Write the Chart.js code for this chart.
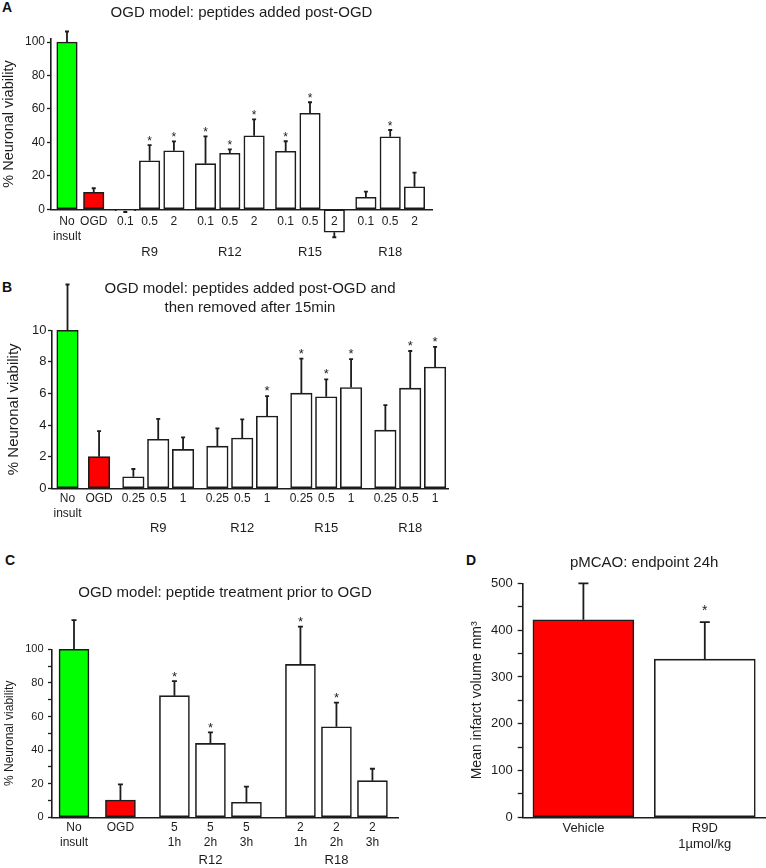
<!DOCTYPE html>
<html>
<head>
<meta charset="utf-8">
<script src="https://cdn.jsdelivr.net/npm/chart.js@4.4.1/dist/chart.umd.min.js"></script>
<style>
  body { margin: 0; background: #fff; width: 766px; height: 868px; position: relative; overflow: hidden; font-family: "Liberation Sans", Arial, sans-serif; }
  canvas { position: absolute; }
  .tag { position: absolute; font-weight: bold; font-size: 14px; line-height: 14px; color: #111; }
</style>
</head>
<body>
<div class="tag" style="left:2px;top:0px">A</div>
<div class="tag" style="left:2px;top:280px">B</div>
<div class="tag" style="left:5px;top:553px">C</div>
<div class="tag" style="left:466px;top:553px">D</div>
<canvas id="chartA" style="left:0;top:0" width="480" height="262"></canvas>
<canvas id="chartB" style="left:0;top:262px" width="480" height="275"></canvas>
<canvas id="chartC" style="left:0;top:532px" width="430" height="336"></canvas>
<canvas id="chartD" style="left:430px;top:532px" width="336" height="336"></canvas>
<script>
// Panel A: peptides added post-OGD
const aLabels = [["No", "insult"], "OGD", "0.1", "0.5", "2", "0.1", "0.5", "2", "0.1", "0.5", "2", "0.1", "0.5", "2"];
const aGroups = ["", "", "R9", "R9", "R9", "R12", "R12", "R12", "R15", "R15", "R15", "R18", "R18", "R18"];
const aValues = [100, 10.2, -0.8, 29, 35, 27.3, 33.5, 44, 34.7, 57.4, -13.7, 7.2, 43.4, 13.5];
const aErrors = [6.3, 2.4, 0.8, 9.4, 5.6, 16.3, 2.3, 9.8, 6, 6.6, 3, 3.4, 4, 8.4];
const aStars = [0, 0, 0, 1, 1, 1, 1, 1, 1, 1, 0, 0, 1, 0];
const aTicks = [0, 10, 20, 30, 40, 50, 60, 70, 80, 90, 100];

// Panel B: peptides added post-OGD, removed after 15 min
const bLabels = [["No", "insult"], "OGD", "0.25", "0.5", "1", "0.25", "0.5", "1", "0.25", "0.5", "1", "0.25", "0.5", "1"];
const bGroups = ["", "", "R9", "R9", "R9", "R12", "R12", "R12", "R15", "R15", "R15", "R18", "R18", "R18"];
const bValues = [100, 20, 7.3, 31, 24.6, 26.7, 31.8, 45.7, 60.2, 57.9, 63.8, 36.8, 63.4, 76.8];
const bErrors = [29, 16.2, 4.9, 13, 7.6, 11.2, 11.8, 12.6, 21.9, 11.1, 17.9, 15.8, 23.5, 12.7];
const bStars = [0, 0, 0, 0, 0, 0, 0, 1, 1, 1, 1, 0, 1, 1];
const bTicks = [0, 10, 20, 30, 40, 50, 60, 70, 80, 90, 100];
const bTickLabels = ["0", "0", "2", "0", "4", "0", "6", "0", "8", "0", "10"];

// Panel C: peptide treatment prior to OGD
const cLabels = [["No", "insult"], "OGD", ["5", "1h"], ["5", "2h"], ["5", "3h"], ["2", "1h"], ["2", "2h"], ["2", "3h"]];
const cGroups = ["", "", "R12", "R12", "R12", "R18", "R18", "R18"];
const cValues = [100, 10.3, 72.4, 44, 8.9, 91, 53.9, 21.8];
const cErrors = [17.4, 9.3, 8.7, 6.6, 9.3, 22.5, 14.3, 7.1];
const cStars = [0, 0, 1, 1, 0, 1, 1, 0];
const cTicks = [0, 10, 20, 30, 40, 50, 60, 70, 80, 90, 100];

// Panel D: pMCAO infarct volume
const dLabels = [["Vehicle"], ["R9D", "1µmol/kg"]];
const dValues = [422, 338];
const dErrors = [78, 79];
const dStars = [0, 1];
const dTicks = [0, 50, 100, 150, 200, 250, 300, 350, 400, 450, 500];

const FONT = "'Liberation Sans', Arial, sans-serif";
const INK = "#1c1c1c";
const GREEN = "#00ff00";
const RED = "#ff0000";

// one-sided error bars with a small cap, plus significance stars
const errorBars = {
  id: "errorBars",
  afterDatasetsDraw(chart) {
    const { ctx } = chart;
    const yScale = chart.scales.y;
    const ds = chart.data.datasets[0];
    const meta = chart.getDatasetMeta(0);
    const st = ds.errStyle;
    ctx.save();
    ctx.strokeStyle = INK;
    ctx.fillStyle = INK;
    ctx.lineWidth = st.width;
    ctx.font = st.starSize + "px " + FONT;
    ctx.textAlign = "center";
    ctx.textBaseline = "alphabetic";
    meta.data.forEach((bar, i) => {
      const d = ds.data[i];
      const v = typeof d === "object" ? d.y : d;
      const end = v < 0 ? v - ds.errors[i] : v + ds.errors[i];
      const y0 = yScale.getPixelForValue(v);
      const y1 = yScale.getPixelForValue(end);
      ctx.beginPath();
      ctx.moveTo(bar.x, y0);
      ctx.lineTo(bar.x, y1);
      ctx.moveTo(bar.x - st.cap / 2, y1);
      ctx.lineTo(bar.x + st.cap / 2, y1);
      ctx.stroke();
      if (ds.stars[i]) ctx.fillText("*", bar.x, y1 - st.starGap);
    });
    ctx.restore();
  },
};

// x position of each bar: 1 step inside a group, wider steps between groups
function slotPositions(groups, ctrlGap, groupGap) {
  const pos = [];
  let p = 0;
  groups.forEach((g, i) => {
    if (i > 0) {
      if (g !== "" && g === groups[i - 1]) p += 1;
      else if (g === "" && groups[i - 1] === "") p += ctrlGap;
      else p += groupGap;
    }
    pos.push(p);
  });
  return pos;
}

function groupCenters(groups, pos) {
  const names = [...new Set(groups.filter((g) => g !== ""))];
  const centers = names.map((n) => {
    const ps = pos.filter((p, i) => groups[i] === n);
    return (ps[0] + ps[ps.length - 1]) / 2;
  });
  return { names, centers };
}

function yAxis(o) {
  return {
    min: 0,
    max: o.max,
    afterBuildTicks: (s) => { s.ticks = o.ticks.map((v) => ({ value: v })); },
    afterFit: (s) => { s.width = o.width; },
    ticks: { color: INK, font: { family: FONT, size: o.fontSize }, padding: o.pad, callback: o.label },
    grid: { drawOnChartArea: false, tickLength: o.tickLength || 4, tickColor: INK, tickWidth: 1.3 },
    border: { color: INK, width: 1.6 },
    title: {
      display: true, text: o.title, color: INK,
      font: { family: FONT, size: o.titleSize, lineHeight: 1.2 },
      padding: { top: o.titlePad, bottom: 0 },
    },
  };
}

function barChart(id, o) {
  const pos = slotPositions(o.groups, o.ctrlGap, o.groupGap);
  const grp = groupCenters(o.groups, pos);
  const fills = o.values.map((v, i) => (i === 0 ? GREEN : i === 1 ? RED : "#ffffff"));
  return new Chart(document.getElementById(id), {
    type: "bar",
    data: {
      datasets: [{
        data: o.values.map((v, i) => ({ x: pos[i], y: v })),
        backgroundColor: fills,
        borderColor: INK,
        borderWidth: 1.6,
        borderSkipped: false,
        barThickness: o.barWidth,
        clip: false,
        xAxisID: "x",
        yAxisID: "y",
        errors: o.errors,
        stars: o.stars,
        errStyle: o.errStyle,
      }],
    },
    options: {
      responsive: false,
      animation: false,
      events: [],
      layout: { padding: o.padding },
      plugins: {
        legend: { display: false },
        tooltip: { enabled: false },
        title: {
          display: true, text: o.title, fullSize: false, color: INK,
          font: { family: FONT, size: 15, weight: "normal", lineHeight: 1.25 },
          padding: o.titlePad,
        },
      },
      scales: {
        x: {
          type: "linear", min: o.xMin, max: o.xMax, offset: false,
          afterBuildTicks: (s) => { s.ticks = pos.map((v) => ({ value: v })); },
          afterFit: (s) => { s.height = o.xHeight; },
          ticks: {
            z: 1, // labels sit on top of the bars (the negative R15 bar)
            autoSkip: false, maxRotation: 0, color: INK, padding: o.xPad,
            font: { family: FONT, size: 12, lineHeight: 1.25 },
            callback: (v, i) => o.labels[i],
          },
          grid: { display: false, drawTicks: false, offset: false },
          border: { color: INK, width: 1.6 },
        },
        x2: {
          type: "linear", position: "bottom", weight: 1, min: o.xMin, max: o.xMax, offset: false,
          afterBuildTicks: (s) => { s.ticks = grp.centers.map((v) => ({ value: v })); },
          afterFit: (s) => { s.height = o.x2Height; },
          ticks: {
            autoSkip: false, maxRotation: 0, color: INK, padding: 0,
            font: { family: FONT, size: 13, lineHeight: 1.2 },
            callback: (v, i) => grp.names[i],
          },
          grid: { display: false, drawTicks: false, offset: false },
          border: { display: false },
        },
        y: o.y,
      },
    },
    plugins: [errorBars],
  });
}

document.addEventListener("DOMContentLoaded", function () {
  barChart("chartA", {
    labels: aLabels, groups: aGroups, values: aValues, errors: aErrors, stars: aStars,
    title: "OGD model: peptides added post-OGD",
    titlePad: { top: 3.5, bottom: 16.45 },
    padding: { left: 0, right: 48, top: 0, bottom: 0 },
    ctrlGap: 1.1, groupGap: 1.3, xMin: -0.658, xMax: 15.02, barWidth: 20.5,
    xHeight: 35, x2Height: 17.7, xPad: 5,
    errStyle: { width: 1.8, cap: 4, starSize: 12, starGap: 0.5 },
    y: yAxis({
      max: 102, ticks: aTicks, width: 51, fontSize: 12, pad: 2,
      label: (v) => (v % 20 === 0 ? v : ""),
      title: "% Neuronal viability", titleSize: 14.5, titlePad: 0.3,
    }),
  });

  barChart("chartB", {
    labels: bLabels, groups: bGroups, values: bValues, errors: bErrors, stars: bStars,
    title: ["OGD model: peptides added post-OGD and", "then removed after 15min"],
    titlePad: { top: 17.6, bottom: 13.2 },
    padding: { left: 0, right: 32, top: 0, bottom: 0 },
    ctrlGap: 1.27, groupGap: 1.38, xMin: -0.624, xMax: 15.31, barWidth: 21.5,
    xHeight: 31.9, x2Height: 16.8, xPad: 2.5,
    errStyle: { width: 1.8, cap: 4, starSize: 13, starGap: 1 },
    y: yAxis({
      max: 100, ticks: bTicks, width: 52, fontSize: 13, pad: 1.5,
      label: (v, i) => bTickLabels[i],
      title: "% Neuronal viability", titleSize: 15, titlePad: 5,
    }),
  });

  barChart("chartC", {
    labels: cLabels, groups: cGroups, values: cValues, errors: cErrors, stars: cStars,
    title: "OGD model: peptide treatment prior to OGD",
    titlePad: { top: 51.3, bottom: 47.25 },
    padding: { left: 0, right: 32, top: 0, bottom: 0 },
    ctrlGap: 1.29, groupGap: 1.5, xMin: -0.611, xMax: 9.0, barWidth: 30,
    xHeight: 35.6, x2Height: 15.1, xPad: 3.2,
    errStyle: { width: 1.8, cap: 5, starSize: 13, starGap: 0.5 },
    y: yAxis({
      max: 100, ticks: cTicks, width: 52, fontSize: 11, pad: 4.5,
      label: (v) => (v % 20 === 0 ? v : ""),
      title: "% Neuronal viability", titleSize: 12, titlePad: 2.8,
    }),
  });

  // Panel D uses a plain category axis
  new Chart(document.getElementById("chartD"), {
    type: "bar",
    data: {
      labels: dLabels,
      datasets: [{
        data: dValues,
        backgroundColor: [RED, "#ffffff"],
        borderColor: INK,
        borderWidth: 1.6,
        borderSkipped: false,
        barThickness: 101,
        clip: false,
        errors: dErrors,
        stars: dStars,
        errStyle: { width: 1.8, cap: 10, starSize: 14, starGap: 7 },
      }],
    },
    options: {
      responsive: false,
      animation: false,
      events: [],
      layout: { padding: { left: 0, right: 0.5, top: 0, bottom: 0 } },
      plugins: {
        legend: { display: false },
        tooltip: { enabled: false },
        title: {
          display: true, text: "pMCAO: endpoint 24h", fullSize: false, color: INK,
          font: { family: FONT, size: 15, weight: "normal", lineHeight: 1.25 },
          padding: { top: 21.6, bottom: 11 },
        },
      },
      scales: {
        x: {
          afterFit: (s) => { s.height = 50.7; },
          ticks: { color: INK, padding: 2.25, font: { family: FONT, size: 13, lineHeight: 1.3 } },
          grid: { display: false, drawTicks: false },
          border: { color: INK, width: 1.6 },
        },
        y: yAxis({
          max: 500, ticks: dTicks, width: 92.7, fontSize: 13, pad: 5, tickLength: 5,
          label: (v) => (v % 100 === 0 ? v : ""),
          title: "Mean infarct volume mm³", titleSize: 14, titlePad: 38.3,
        }),
      },
    },
    plugins: [errorBars],
  });
});
</script>
</body>
</html>
